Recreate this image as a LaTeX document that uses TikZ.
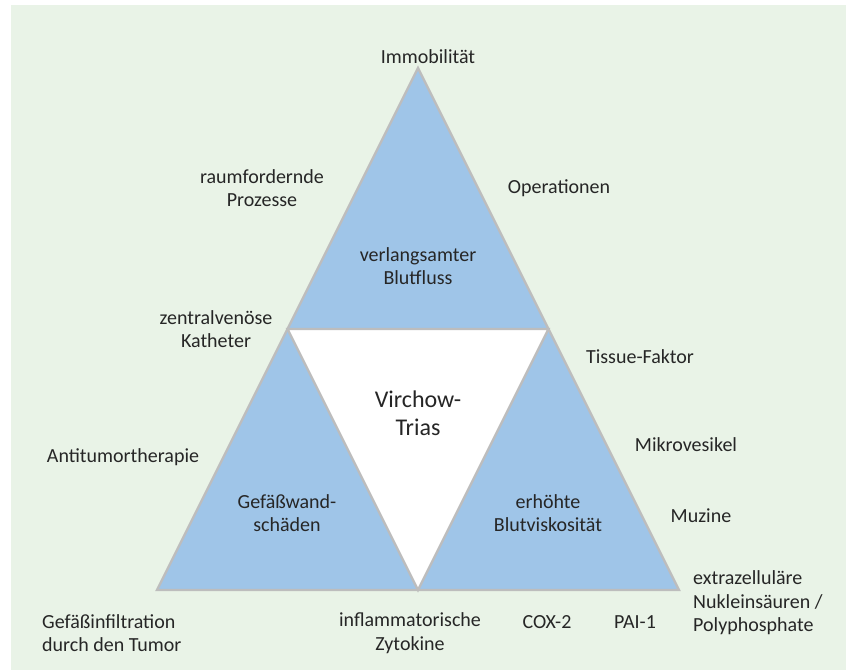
\documentclass[tikz,border=0pt]{standalone}
\usepackage{fontspec}
\setmainfont{Carlito}
\definecolor{bggreen}{HTML}{E9F3E7}
\definecolor{triblue}{HTML}{9FC5E8}
\definecolor{edgegray}{HTML}{BDBDBD}
\definecolor{txt}{HTML}{262626}
\begin{document}
\begin{tikzpicture}[x=1pt,y=-1pt,
  lbl/.style={inner sep=0pt, align=center, text=txt, font=\fontsize{20}{23.5}\selectfont},
  lbll/.style={lbl, align=left},
  big/.style={inner sep=0pt, align=center, text=txt, font=\fontsize{24}{28}\selectfont},
  tri/.style={draw=edgegray, line width=2.4pt, line join=miter}]
\useasboundingbox (0,0) rectangle (846,670);
\fill[white] (0,0) rectangle (846,670);
\fill[bggreen] (11,5) rectangle (846,670);
% triangles
\coordinate (A) at (418,68);
\coordinate (B) at (157,590);
\coordinate (C) at (679,590);
\coordinate (AB) at (287.5,329);
\coordinate (AC) at (548.5,329);
\coordinate (BC) at (418,590);
\draw[tri, fill=triblue] (A) -- (B) -- (C) -- cycle;
\draw[tri, fill=white] (AB) -- (AC) -- (BC) -- cycle;
% inner labels
\node[lbl] (flow) at (418,266) {verlangsamter\\Blutfluss};
\node[big] (trias) at (418,413) {Virchow-\\Trias};
\node[lbl] (wall) at (287,513) {Gefäßwand-\\schäden};
\node[lbl] (visc) at (548,513) {erhöhte\\Blutviskosität};
% outer labels
\node[lbl] (immo) at (428,57) {Immobilität};
\node[lbl] (raum) at (262,188) {raumfordernde\\Prozesse};
\node[lbl] (ops) at (559,188) {Operationen};
\node[lbl] (zvk) at (216,329) {zentralvenöse\\Katheter};
\node[lbl] (tf) at (640,357) {Tissue-Faktor};
\node[lbl] (anti) at (123,457) {Antitumortherapie};
\node[lbl] (mikro) at (686,445) {Mikrovesikel};
\node[lbl] (muz) at (701,516) {Muzine};
\node[lbll, anchor=west] (extra) at (693,603) {extrazelluläre\\Nukleinsäuren /\\Polyphosphate};
\node[lbl] (pai) at (635,622) {PAI-1};
\node[lbl] (cox) at (547,622) {COX-2};
\node[lbl] (zyto) at (410,633) {inflammatorische\\Zytokine};
\node[lbll, anchor=west] (infil) at (42,633) {Gefäßinfiltration\\durch den Tumor};
\end{tikzpicture}
\end{document}
